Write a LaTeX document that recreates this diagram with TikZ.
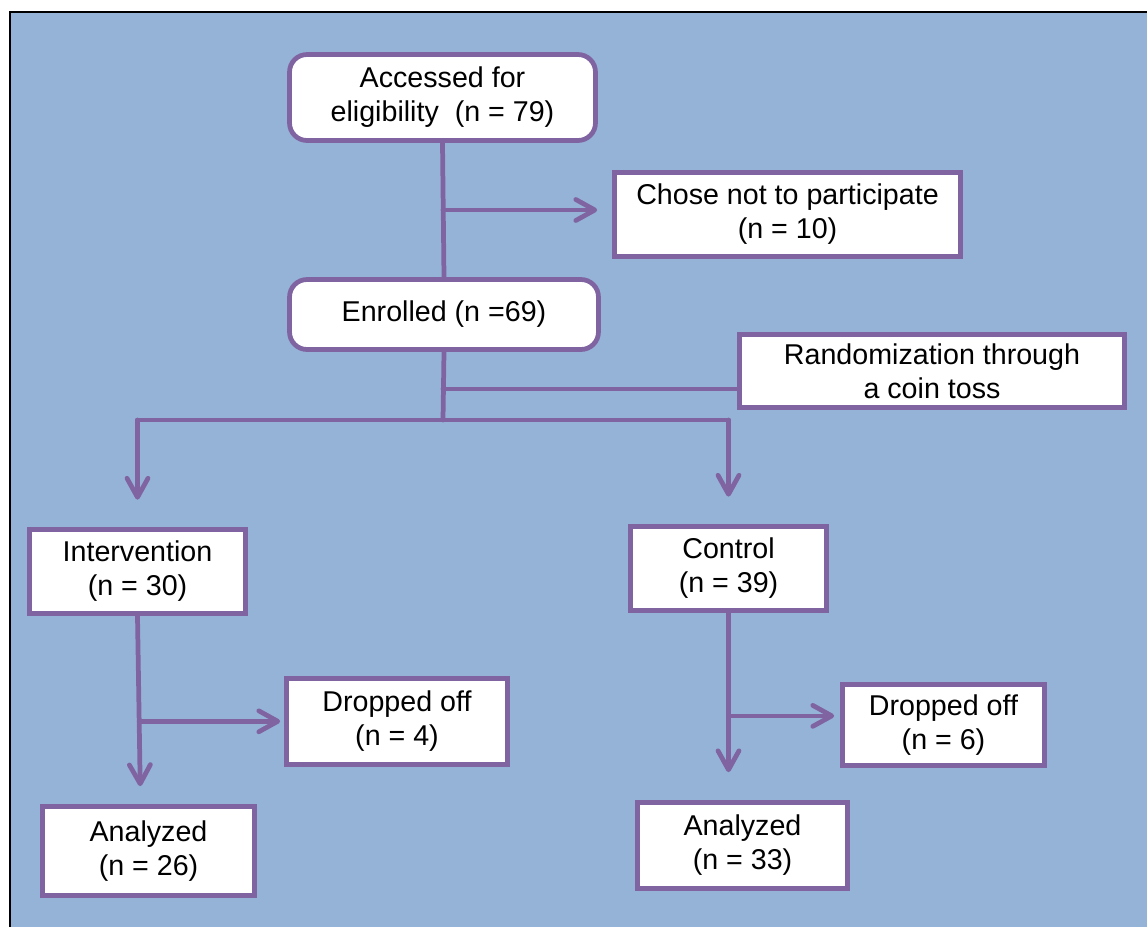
\documentclass[tikz,border=0pt]{standalone}
\usepackage{fontspec}
\setmainfont{Liberation Sans}
\usetikzlibrary{arrows.meta,calc}
\definecolor{bgblue}{HTML}{95B3D7}
\definecolor{boxpurple}{HTML}{8064A2}
\tikzset{
 box/.style={draw=boxpurple, line width=2.7pt, fill=white, align=center, inner sep=0pt,
  font=\fontsize{16.3}{19.3}\selectfont},
 rbox/.style={box, rounded corners=0.35cm},
 link/.style={draw=boxpurple, line width=2.7pt, line cap=round, line join=round},
 arr/.style={link, -{Straight Barb[length=0.38cm, width=0.42cm, round]}}
}
\begin{document}
\begin{tikzpicture}[x=0.02cm, y=-0.02cm]
\useasboundingbox (0,0) rectangle (1147,927);
\fill[bgblue] (10,12) rectangle (1147,927);
\draw[line width=1.1pt] (10,927)--(10,12)--(1147,12);
% boxes
\node[rbox, minimum width=6.12cm, minimum height=1.72cm] (acc) at (442.5,97.5) {Accessed for\\eligibility\ \ (n = 79)};
\node[box, minimum width=6.92cm, minimum height=1.68cm] (chose) at (787.5,214.5) {Chose not to participate\\(n = 10)};
\node[rbox, minimum width=6.18cm, minimum height=1.4cm] (enr) at (444,314.5) {Enrolled (n =69)};
\node[box, minimum width=7.7cm, minimum height=1.46cm] (rand) at (932,371) {Randomization through\\a coin toss};
\node[box, minimum width=4.32cm, minimum height=1.68cm] (intv) at (137.5,571.5) {Intervention\\(n = 30)};
\node[box, minimum width=3.92cm, minimum height=1.68cm] (ctrl) at (728.5,568.5) {Control\\(n = 39)};
\node[box, minimum width=4.42cm, minimum height=1.72cm] (dropl) at (397,721.5) {Dropped off\\(n = 4)};
\node[box, minimum width=4.04cm, minimum height=1.62cm] (dropr) at (943.5,725) {Dropped off\\(n = 6)};
\node[box, minimum width=4.24cm, minimum height=1.78cm] (anal) at (148.5,851) {Analyzed\\(n = 26)};
\node[box, minimum width=4.2cm, minimum height=1.72cm] (anar) at (742.5,845.5) {Analyzed\\(n = 33)};
% top part
\coordinate (b1) at (443,210);
\coordinate (r1) at (443,389);
\coordinate (s) at (443,420);
\draw[link] (acc.south) -- (enr.north);
\draw[arr, shorten >=0.3cm] (b1) -- (b1 -| chose.west);
\draw[link] (enr.south) -- (s);
\draw[link] (r1) -- (r1 -| rand.west);
\draw[link] (intv.north |- s) -- (ctrl.north |- s);
\foreach \n in {intv,ctrl} {
 \draw[arr, shorten >=0.55cm] (\n.north |- s) -- (\n.north);
};
% arms
\coordinate (a1) at ($(anal.north)+(-8,0)$);
\coordinate (d1) at ($(intv.south)!0.56!(a1)$);
\coordinate (d2) at ($(ctrl.south)!0.55!(anar.north)$);
\draw[arr, shorten >=0.36cm] (intv.south) -- (a1);
\draw[arr, shorten >=0.56cm] (ctrl.south) -- (ctrl.south |- anar.north);
\draw[arr, shorten >=0.08cm] (d1) -- (d1 -| dropl.west);
\draw[arr, shorten >=0.12cm] (d2 -| ctrl.south) -- (d2 -| dropr.west);
\end{tikzpicture}
\end{document}
